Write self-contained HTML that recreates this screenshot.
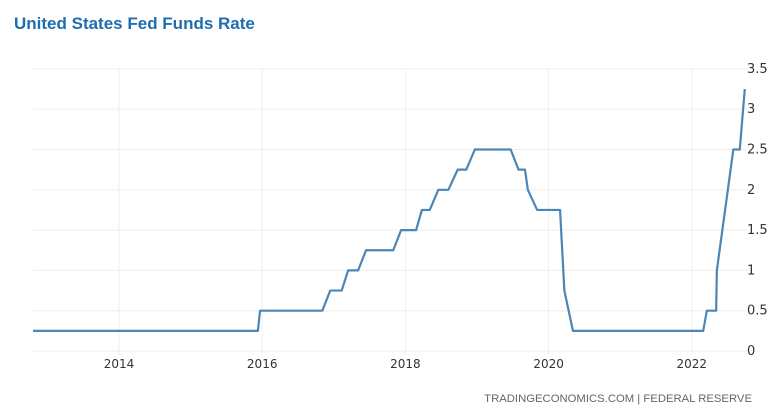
<!DOCTYPE html>
<html><head><meta charset="utf-8"><style>
body{margin:0;background:#fff;width:784px;height:420px;overflow:hidden;font-family:"Liberation Sans",sans-serif}
#title{position:absolute;left:14px;top:14px;font-size:17px;font-weight:bold;color:#1d6db0;margin:0}
svg{position:absolute;left:0;top:0}
</style></head><body>
<h1 id="title">United States Fed Funds Rate</h1>
<svg id="chart" width="784" height="420"></svg>
<script>
const dates=[2012.8,2015.94,2015.97,2016.84,2016.95,2017.11,2017.2,2017.34,2017.45,2017.83,2017.94,2018.15,2018.23,2018.34,2018.46,2018.6,2018.73,2018.85,2018.97,2019.47,2019.58,2019.67,2019.71,2019.84,2020.16,2020.22,2020.34,2022.16,2022.21,2022.34,2022.35,2022.58,2022.67,2022.74];
const rates=[0.25,0.25,0.5,0.5,0.75,0.75,1,1,1.25,1.25,1.5,1.5,1.75,1.75,2,2,2.25,2.25,2.5,2.5,2.25,2.25,2,1.75,1.75,0.75,0.25,0.25,0.5,0.5,1,2.5,2.5,3.25];
const yTicks=[0,0.5,1,1.5,2,2.5,3,3.5];
const xTicks=[2014,2016,2018,2020,2022];
const NS="http://www.w3.org/2000/svg";
const svg=document.getElementById('chart');
const X=v=>119+(v-2014)*71.6;
const Y=v=>351-v*80.6;
function mk(t,a){const e=document.createElementNS(NS,t);for(const k in a)e.setAttribute(k,a[k]);svg.appendChild(e);return e;}
yTicks.forEach(v=>{
 const l=mk('line',{x1:33,x2:748,y1:Y(v),y2:Y(v),stroke:'#eeeeee','stroke-width':1});
 
 
 const t=mk('text',{x:747,y:Y(v)+4,'font-size':13,fill:'#333','font-family':'DejaVu Sans, sans-serif'});
 t.textContent=v;
 
 
});
xTicks.forEach(v=>{
 const l=mk('line',{x1:X(v),x2:X(v),y1:69,y2:355,stroke:'#eeeeee','stroke-width':1});
 
 
 const t=mk('text',{x:X(v),y:368,'font-size':12,fill:'#333','text-anchor':'middle','font-family':'DejaVu Sans, sans-serif'});
 t.textContent=v;
 
 
});
const p=mk('polyline',{points:dates.map((d,i)=>X(d)+','+Y(rates[i])).join(' '),fill:'none',stroke:'#4a86b8','stroke-width':2.2,'stroke-linejoin':'round'});


const s=mk('text',{x:752,y:402,'font-size':11.3,fill:'#666','text-anchor':'end'});
s.textContent='TRADINGECONOMICS.COM | FEDERAL RESERVE';


</script>
</body></html>
